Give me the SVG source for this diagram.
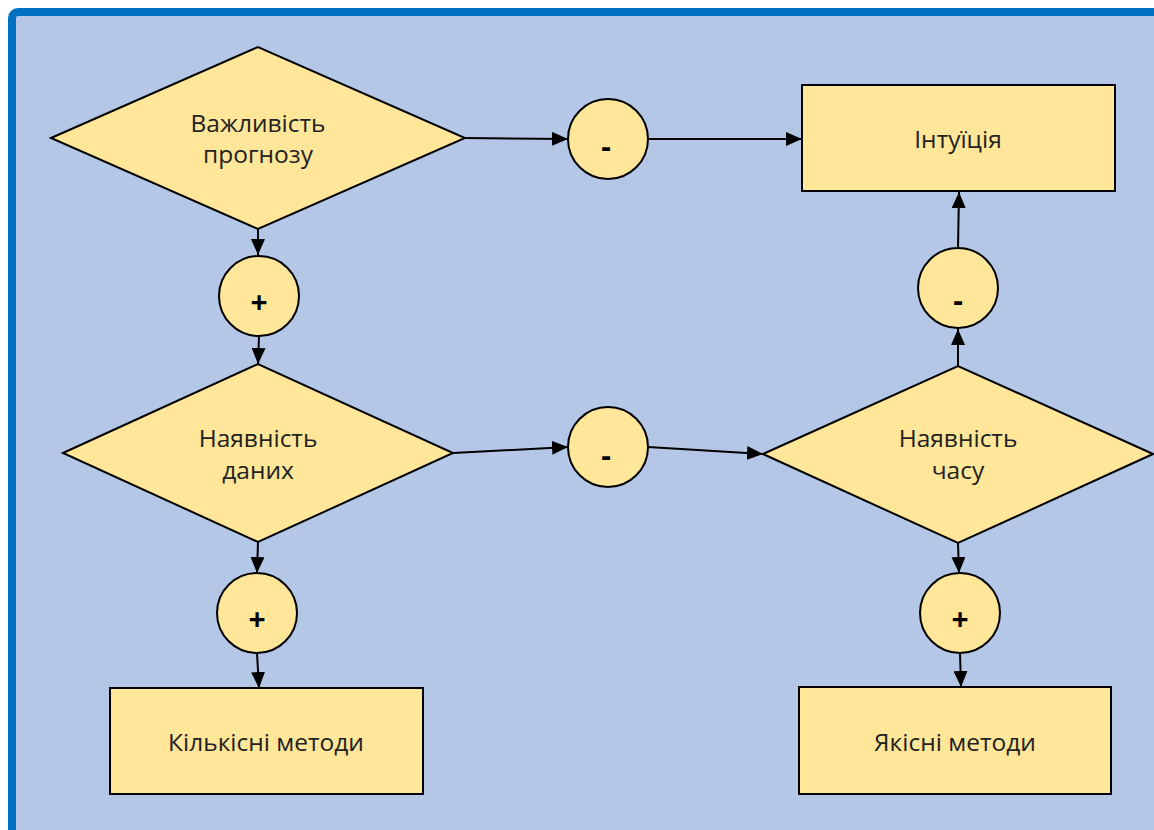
<svg xmlns="http://www.w3.org/2000/svg" width="1154" height="830" viewBox="0 0 1154 830">
<style>
.shape{fill:#FFE699;stroke:#000;stroke-width:2}
.lbl{font-family:"Open Sans","Liberation Sans",sans-serif;font-size:24.5px;fill:#222;text-anchor:middle;font-weight:400}
.sym{font-family:"Open Sans","Liberation Sans",sans-serif;font-size:30px;font-weight:bold;fill:#000;text-anchor:middle}
.con{stroke:#000;stroke-width:2;fill:none;marker-end:url(#arr)}
</style>
<defs>
<marker id="arr" viewBox="0 0 16 14" refX="16" refY="7" markerWidth="16" markerHeight="14" markerUnits="userSpaceOnUse" orient="auto">
<path d="M0,0 L16,7 L0,14 Z" fill="#000"/>
</marker>
</defs>
<rect width="1154" height="830" fill="#fff"/>
<rect x="12" y="12" width="1160" height="830" rx="6" fill="#B4C7E7" stroke="#0070C0" stroke-width="8"/>

<g id="connectors">
<line class="con" x1="465" y1="138" x2="568" y2="139"/>
<line class="con" x1="648" y1="139" x2="802" y2="139"/>
<line class="con" x1="258" y1="229" x2="258" y2="255"/>
<line class="con" x1="259" y1="336" x2="258" y2="364"/>
<line class="con" x1="453" y1="453" x2="568" y2="447"/>
<line class="con" x1="648" y1="447" x2="763" y2="454"/>
<line class="con" x1="958" y1="366" x2="958" y2="329"/>
<line class="con" x1="958" y1="248" x2="959" y2="192"/>
<line class="con" x1="258" y1="542" x2="257" y2="573"/>
<line class="con" x1="257" y1="653" x2="259" y2="688"/>
<line class="con" x1="958" y1="543" x2="959" y2="573"/>
<line class="con" x1="960" y1="653" x2="961" y2="687"/>
</g>

<g id="d1">
<polygon class="shape" points="51,138 258,47 465,138 258,229"/>
<text class="lbl" x="258" y="132">Важливість</text>
<text class="lbl" x="258" y="163">прогнозу</text>
</g>
<g id="c1">
<circle class="shape" cx="608" cy="139" r="40"/>
<text class="sym" x="606" y="157">-</text>
</g>
<g id="r1">
<rect class="shape" x="802" y="85" width="313" height="106"/>
<text class="lbl" x="958" y="148">Інтуїція</text>
</g>
<g id="c2">
<circle class="shape" cx="259" cy="296" r="40"/>
<text class="sym" x="259" y="313">+</text>
</g>
<g id="d2">
<polygon class="shape" points="63,453 258,364 453,453 258,542"/>
<text class="lbl" x="258" y="447">Наявність</text>
<text class="lbl" x="258" y="479">даних</text>
</g>
<g id="c3">
<circle class="shape" cx="608" cy="447" r="40"/>
<text class="sym" x="606" y="466">-</text>
</g>
<g id="d3">
<polygon class="shape" points="763,454 958,366 1153,454 958,543"/>
<text class="lbl" x="958" y="447">Наявність</text>
<text class="lbl" x="958" y="479">часу</text>
</g>
<g id="c4">
<circle class="shape" cx="958" cy="288" r="40"/>
<text class="sym" x="958" y="311">-</text>
</g>
<g id="c5">
<circle class="shape" cx="257" cy="613" r="40"/>
<text class="sym" x="257" y="630">+</text>
</g>
<g id="c6">
<circle class="shape" cx="960" cy="613" r="40"/>
<text class="sym" x="960" y="630">+</text>
</g>
<g id="r2">
<rect class="shape" x="110" y="688" width="313" height="106"/>
<text class="lbl" x="266" y="751">Кількісні методи</text>
</g>
<g id="r3">
<rect class="shape" x="799" y="687" width="312" height="107"/>
<text class="lbl" x="955" y="751">Якісні методи</text>
</g>
</svg>
